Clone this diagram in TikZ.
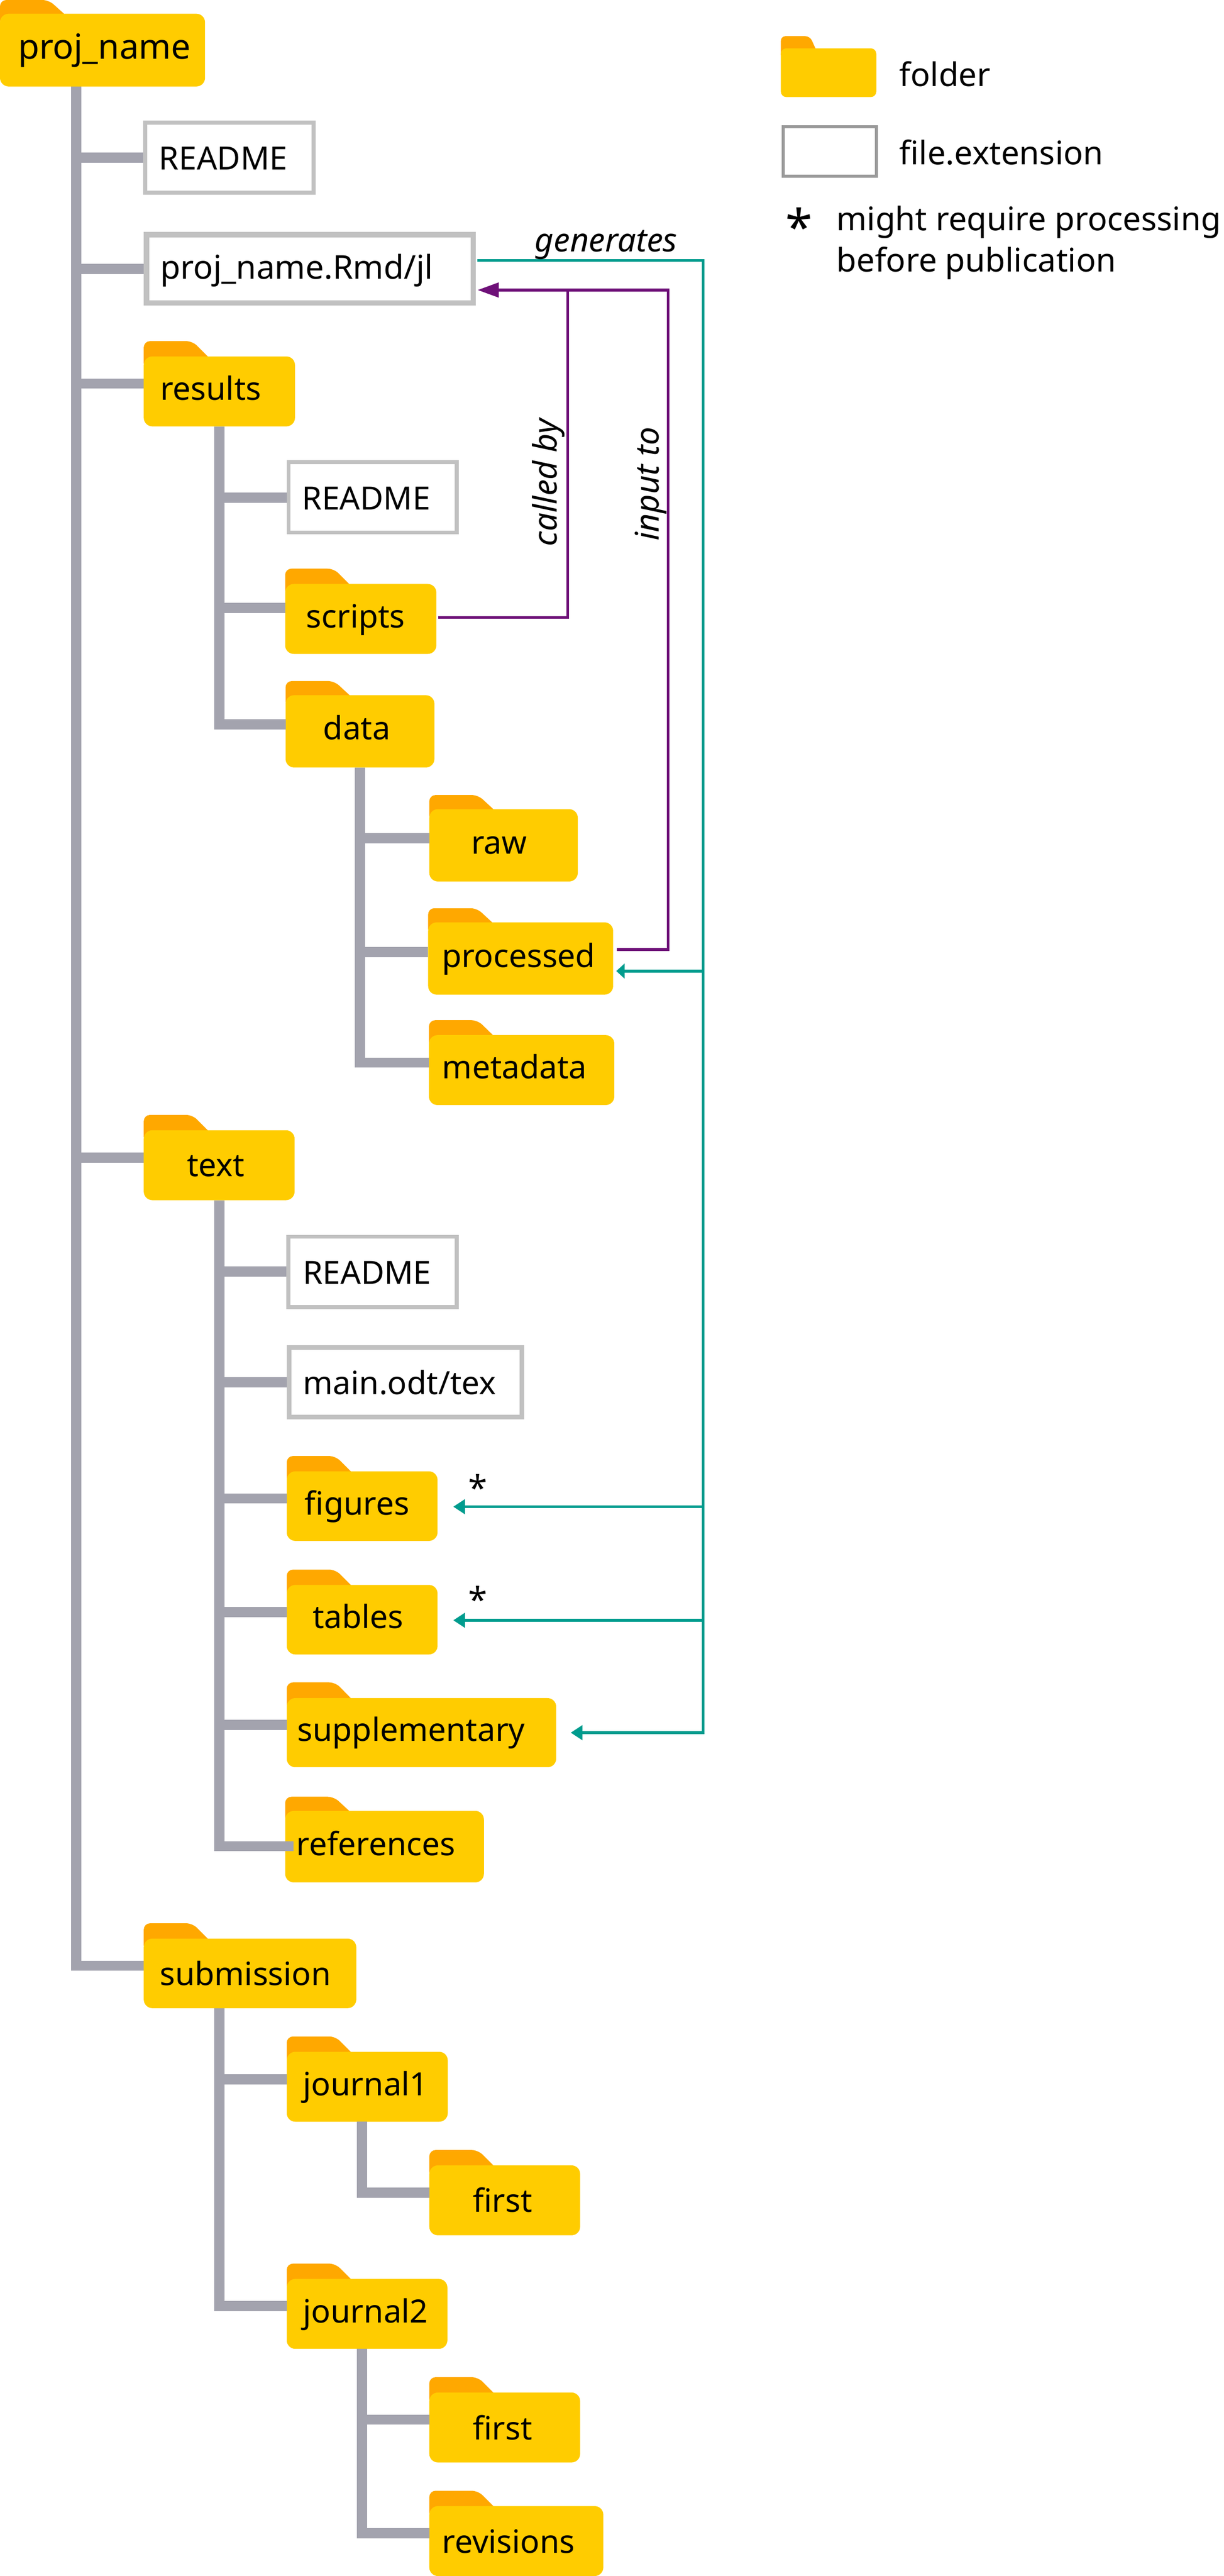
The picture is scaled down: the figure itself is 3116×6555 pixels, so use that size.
\documentclass[tikz,border=0pt]{standalone}
\usepackage{fontspec}
\setmainfont{Noto Sans}
\usetikzlibrary{arrows.meta}
\definecolor{foldc}{HTML}{FFCC00}
\definecolor{tabc}{HTML}{FFA800}
\definecolor{treec}{HTML}{A3A3AE}
\definecolor{filec}{HTML}{C1C1C1}
\definecolor{legc}{HTML}{9A9A9A}
\definecolor{tealc}{HTML}{009C8E}
\definecolor{purpc}{HTML}{6E1078}
\tikzset{
  foldbody/.style={rectangle,fill=foldc,inner sep=0pt,outer sep=0pt,rounded corners=2.2pt},
  foldtab/.style={fill=tabc},
  filebox/.style={rectangle,draw=filec,fill=white,inner sep=0pt},
  lbl/.style={anchor=base west,inner sep=0pt,outer sep=0pt,font=\fontsize{8.15pt}{10.5pt}\selectfont,text=black},
  leglbl/.style={anchor=base west,inner sep=0pt,outer sep=0pt,font=\fontsize{8.28pt}{10.5pt}\selectfont,text=black},
  edgelbl/.style={lbl,font=\fontsize{8.3pt}{10.5pt}\selectfont\itshape},
  rotlbl/.style={edgelbl,rotate=90},
  treeline/.style={draw=treec,line width=2.6pt,line join=miter},
  purpline/.style={draw=purpc,line width=.7pt,line join=miter},
  tealline/.style={draw=tealc,line width=.7pt,line join=miter},
  tealhead/.style={-{Triangle[length=3pt,width=3.7pt]}},
  purphead/.style={-{Triangle[length=5.4pt,width=3.7pt]}},
}
% name, x0, x1, ytab, ybody, ybot, text x, text baseline, text
\newcommand{\fold}[9]{%
  \fill[foldtab] (#2,#5+18) [rounded corners=1.6pt] -- (#2,#4) -- ({#2+124},#4) [sharp corners] -- ({#2+163},#5) -- ({#2+163},#5+18) -- cycle;
  \node[foldbody,minimum width={(#3-#2)*0.1pt},minimum height={(#6-#5)*0.1pt}] (#1) at ({(#2+#3)/2},{(#5+#6)/2}) {};
  \node[lbl] (#1-t) at (#7,#8) {#9};
}
% name, x0, x1, y0, y1, border, text x, text baseline, text
\newcommand{\filenode}[9]{%
  \node[filebox,line width={#6*0.1pt},minimum width={(#3-#2-#6)*0.1pt},minimum height={(#5-#4-#6)*0.1pt}] (#1) at ({(#2+#3)/2},{(#4+#5)/2}) {};
  \node[lbl] (#1-t) at (#7,#8) {#9};
}
% trunk coordinate, target node, branch y
\newcommand{\branch}[3]{\draw[treeline] (#1 |- 0,#3) -- (#2.west |- 0,#3);}
\begin{document}
\begin{tikzpicture}[x=0.1pt,y=-0.1pt]
\useasboundingbox (0,0) rectangle (3116,6555);

% folders and files
\fold{proj}{0}{522}{0}{35}{220}{46}{150}{\fontsize{8.8pt}{10.5pt}\selectfont proj\_name}
\filenode{readA}{365}{803}{307}{495}{10}{405}{432}{README}
\filenode{rmd}{366}{1212}{590}{778}{14}{408}{710}{\fontsize{8.35pt}{10.5pt}\selectfont proj\_name.Rmd/jl}
\fold{results}{366}{751}{868}{907}{1085}{408}{1018}{results}
\filenode{readB}{730}{1168}{1171}{1360}{10}{769}{1297}{README}
\fold{scripts}{726}{1111}{1447}{1486}{1664}{780}{1597}{scripts}
\fold{data}{727}{1106}{1733}{1769}{1953}{823}{1882}{data}
\fold{raw}{1093}{1471}{2023}{2059}{2243}{1200}{2173}{raw}
\fold{processed}{1090}{1561}{2311}{2347}{2531}{1125}{2461}{processed}
\fold{metadata}{1092}{1564}{2596}{2634}{2812}{1126}{2745}{metadata}
\fold{text}{366}{750}{2837}{2876}{3054}{476}{2994}{text}
\filenode{readC}{729}{1168}{3142}{3331}{10}{771}{3267}{README}
\filenode{main}{730}{1335}{3423}{3612}{12}{772}{3548}{main.odt/tex}
\fold{figures}{730}{1114}{3705}{3744}{3921}{776}{3855}{figures}
\fold{tables}{730}{1114}{3994}{4033}{4210}{796}{4143}{tables}
\fold{supp}{730}{1416}{4281}{4321}{4497}{757}{4430}{supplementary}
\fold{refs}{726}{1232}{4572}{4608}{4790}{755}{4721}{references}
\fold{subm}{366}{907}{4894}{4933}{5110}{407}{5052}{submission}
\fold{jone}{730}{1140}{5182}{5221}{5399}{772}{5332}{journal1}
\fold{firstA}{1093}{1477}{5471}{5510}{5688}{1204}{5629}{first}
\fold{jtwo}{730}{1139}{5760}{5799}{5977}{772}{5910}{journal2}
\fold{firstB}{1093}{1477}{6049}{6088}{6266}{1204}{6208}{first}
\fold{revis}{1093}{1536}{6338}{6377}{6555}{1126}{6496}{revisions}

% tree
\coordinate (trA) at (194,0);
\coordinate (trB) at (558,0);
\coordinate (trC) at (916,0);
\coordinate (trD) at (922,0);
\draw[treeline] (trA |- proj.south) |- (subm.west |- 0,5002);
\branch{trA}{readA}{401}
\branch{trA}{rmd}{684}
\branch{trA}{results}{976}
\branch{trA}{text}{2946}
\draw[treeline] (trB |- results.south) |- (data.west |- 0,1843);
\branch{trB}{readB}{1266}
\branch{trB}{scripts}{1547}
\draw[treeline] (trC |- data.south) |- (metadata.west |- 0,2704);
\branch{trC}{raw}{2133}
\branch{trC}{processed}{2423}
\draw[treeline] (trB |- text.south) |- (747,4698);
\branch{trB}{readC}{3236}
\branch{trB}{main}{3517}
\branch{trB}{figures}{3813}
\branch{trB}{tables}{4102}
\branch{trB}{supp}{4389}
\draw[treeline] (trB |- subm.south) |- (jtwo.west |- 0,5868);
\branch{trB}{jone}{5291}
\draw[treeline] (trD |- jone.south) |- (firstA.west |- 0,5580);
\draw[treeline] (trD |- jtwo.south) |- (revis.west |- 0,6446);
\branch{trD}{firstB}{6157}

% purple connectors
\coordinate (pjoin) at (1445,738);
\coordinate (pouter) at (1701,0);
\draw[purpline,purphead,shorten >=.4pt,shorten <=1pt] (processed.east |- 0,2416) -| (pouter |- 0,738) -- (rmd.east |- 0,738);
\draw[purpline,shorten <=.4pt] (scripts.east |- 0,1571) -| (pjoin);

% teal connectors
\coordinate (tv) at (1790,0);
\draw[tealline,tealhead,shorten >=3.7pt,shorten <=.3pt] (rmd.east |- 0,663) -| (tv |- 0,4409) -- (supp.east |- 0,4409);
\draw[tealline,-{Triangle[length=2.1pt,width=3.7pt]},shorten >=.8pt] (tv |- 0,2471) -- (processed.east |- 0,2471);
\draw[tealline,tealhead,shorten >=4pt] (tv |- 0,3834) -- (figures.east |- 0,3834);
\draw[tealline,tealhead,shorten >=4pt] (tv |- 0,4123) -- (tables.east |- 0,4123);

% edge labels
\node[edgelbl] (gen) at (1362,640) {generates};
\node[rotlbl] (called) at (1418,1390) {called by};
\node[rotlbl] (input) at (1677,1376) {input to};
\node[lbl,font=\fontsize{8.8pt}{10.5pt}\selectfont] (starA) at (1192,3818) {*};
\node[lbl,font=\fontsize{8.8pt}{10.5pt}\selectfont] (starB) at (1192,4103) {*};

% legend
\fill[foldtab] (1988,140) [rounded corners=1.2pt] -- (1988,92) -- (2062,92) [sharp corners] -- (2076,123) -- (2076,140) -- cycle;
\node[foldbody,rounded corners=1.4pt,minimum width=24.3pt,minimum height=12.4pt] (legfold) at (2109.5,185) {};
\node[leglbl] (legfoldt) at (2290,219) {folder};
\node[rectangle,draw=legc,line width=.8pt,fill=white,inner sep=0pt,minimum width=23.7pt,minimum height=12.6pt] (legfile) at (2112.5,385) {};
\node[leglbl] (legfilet) at (2290,419) {file.extension};
\node[leglbl,font=\fontsize{12.5pt}{12.5pt}\selectfont\bfseries] (legstar) at (2000,624) {*};
\node[leglbl,align=left] (legnote) at (2130,692) {might require processing\\before publication};
\end{tikzpicture}
\end{document}
